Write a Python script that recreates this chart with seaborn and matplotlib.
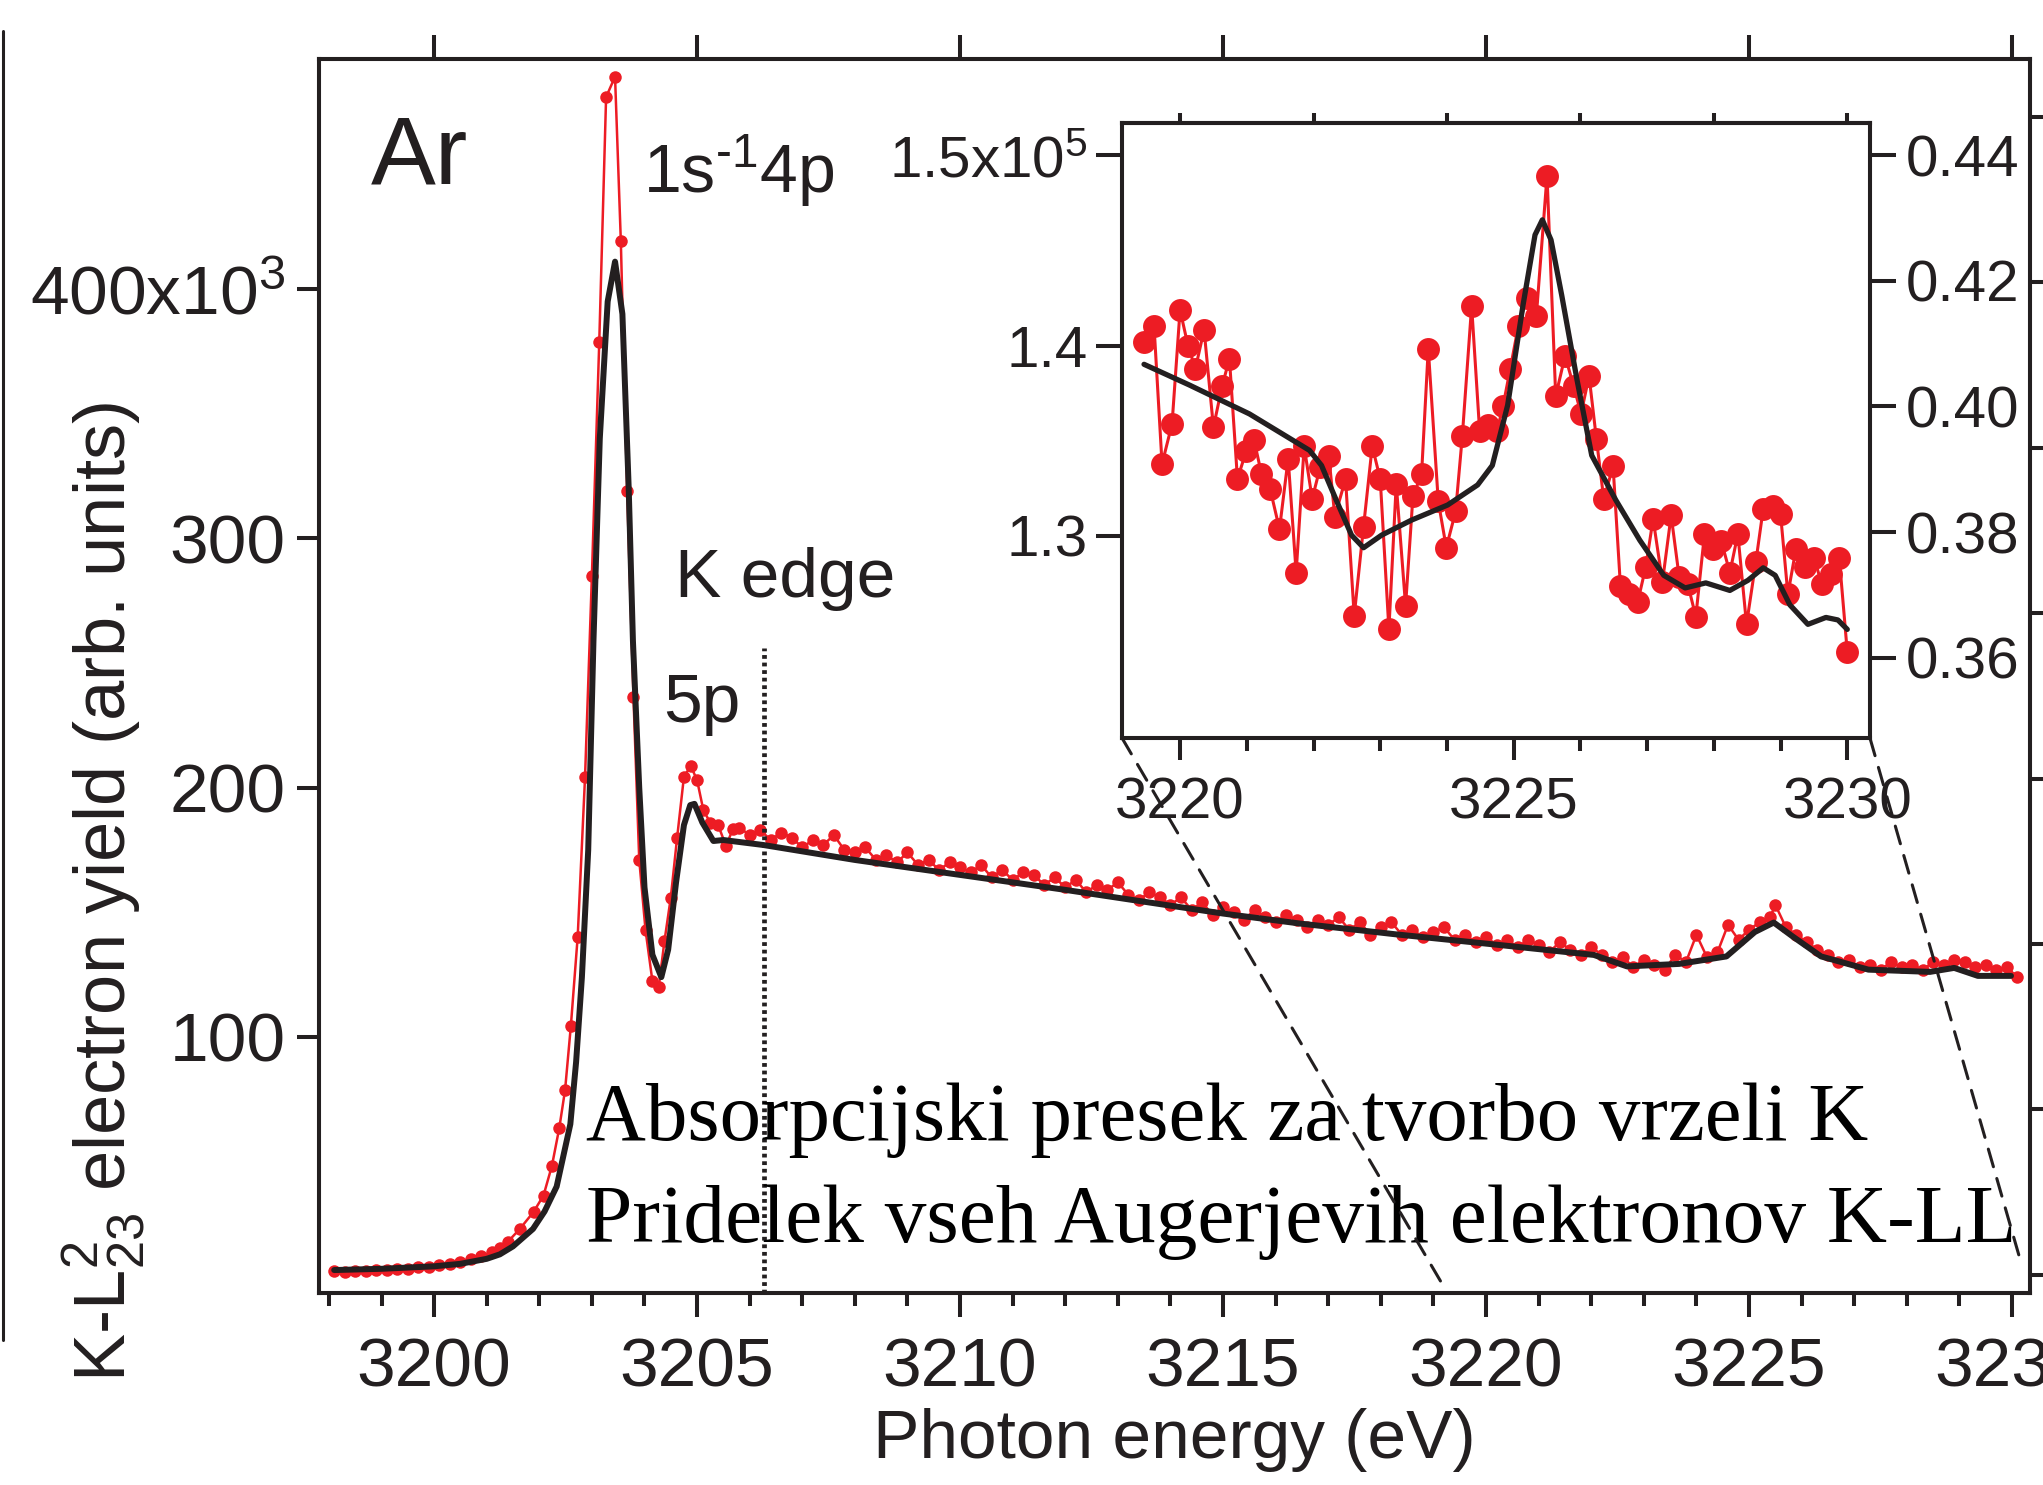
import matplotlib
matplotlib.use("Agg")
import matplotlib.pyplot as plt
import seaborn as sns
from matplotlib.patches import ConnectionPatch
from matplotlib.lines import Line2D
from matplotlib.ticker import MultipleLocator, FixedLocator, FixedFormatter

# glavni graf: izkoristek K-L23^2 (rdece tocke) in absorpcijski presek (crna crta), v 10^3
main_e = [3198.1, 3198.3, 3198.5, 3198.7, 3198.9, 3199.1, 3199.3, 3199.5, 3199.7, 3199.9,
          3200.1, 3200.3, 3200.5, 3200.7, 3200.9, 3201.1, 3201.25, 3201.4, 3201.63, 3201.89,
          3202.08, 3202.24, 3202.38, 3202.49, 3202.6, 3202.73, 3202.87, 3203.0, 3203.14, 3203.27,
          3203.44, 3203.55, 3203.67, 3203.79, 3203.9, 3204.02, 3204.15, 3204.27, 3204.38, 3204.5,
          3204.62, 3204.75, 3204.88, 3205.0, 3205.12, 3205.25, 3205.4, 3205.55, 3205.68,
          3205.8, 3206.0, 3206.2, 3206.4, 3206.6, 3206.8, 3207.0, 3207.2, 3207.4, 3207.6, 3207.8,
          3208.0, 3208.2, 3208.4, 3208.6, 3208.8, 3209.0, 3209.2, 3209.4, 3209.6, 3209.8,
          3210.0, 3210.2, 3210.4, 3210.6, 3210.8, 3211.0, 3211.2, 3211.4, 3211.6, 3211.8,
          3212.0, 3212.2, 3212.4, 3212.6, 3212.8, 3213.0, 3213.2, 3213.4, 3213.6, 3213.8,
          3214.0, 3214.2, 3214.4, 3214.6, 3214.8, 3215.0, 3215.2, 3215.4, 3215.6, 3215.8,
          3216.0, 3216.2, 3216.4, 3216.6, 3216.8, 3217.0, 3217.2, 3217.4, 3217.6, 3217.8,
          3218.0, 3218.2, 3218.4, 3218.6, 3218.8, 3219.0, 3219.2, 3219.4, 3219.6, 3219.8,
          3220.0, 3220.2, 3220.4, 3220.6, 3220.8, 3221.0, 3221.2, 3221.4, 3221.6, 3221.8,
          3222.0, 3222.2, 3222.4, 3222.6, 3222.8, 3223.0, 3223.2, 3223.4, 3223.6, 3223.8,
          3224.0, 3224.2, 3224.4, 3224.6, 3224.8, 3225.0, 3225.2, 3225.4, 3225.5, 3225.7,
          3225.9, 3226.1, 3226.3, 3226.5, 3226.7, 3226.9, 3227.1, 3227.3, 3227.5, 3227.7,
          3227.9, 3228.1, 3228.3, 3228.5, 3228.7, 3228.9, 3229.1, 3229.3, 3229.5, 3229.7,
          3229.9, 3230.1]
main_y = [6.0, 5.6, 6.2, 6.0, 6.6, 6.4, 7.1, 6.9, 7.6, 7.8,
          8.6, 9.0, 9.8, 10.8, 12.0, 13.6, 15.5, 17.8, 23.0, 29.8,
          36.4, 48.3, 63.5, 78.7, 104.4, 140.2, 204.4, 285.0, 378.8, 477.0,
          485.2, 419.3, 319.0, 236.5, 171.1, 142.8, 122.5, 120.0, 138.5, 155.9,
          179.9, 204.4, 208.7, 203.0, 190.9, 186.0, 185.0, 176.6, 183.4,
          184, 181, 183, 179, 182, 180, 176, 179, 177, 181, 175,
          174, 176, 171, 173, 170, 174, 169, 171, 167, 170,
          168, 166, 169, 164, 167, 163, 166, 165, 161, 164,
          160, 163, 158, 161, 159, 162, 157, 155, 158, 156,
          153, 156, 151, 154, 149, 152, 150, 147, 151, 148,
          146, 149, 147, 144, 147, 145, 148, 143, 146, 141,
          144, 146, 141, 143, 140, 142, 144, 139, 141, 138,
          140, 137, 139, 136, 139, 137, 134, 138, 135, 133,
          136, 133, 130, 132, 128, 131, 129, 127, 133, 130,
          141, 132, 134, 145, 139, 143, 146, 148, 153, 144,
          141, 138, 135, 133, 130, 131, 128, 129, 127, 130,
          128, 129, 127, 130, 129, 131, 130, 128, 129, 127,
          128, 124]

fit_e = [3198.1, 3199.0, 3200.0, 3200.5, 3201.0, 3201.25, 3201.5, 3201.88, 3202.1, 3202.33,
         3202.59, 3202.7, 3202.81, 3202.93, 3203.03, 3203.15, 3203.3, 3203.44, 3203.58, 3203.7,
         3203.78, 3203.9, 3204.0, 3204.15, 3204.32, 3204.45, 3204.6, 3204.75, 3204.87, 3204.95,
         3205.1, 3205.31, 3205.5, 3206.26, 3208.0, 3210.0, 3212.0, 3215.0, 3216.46, 3218.27,
         3220.25, 3222.05, 3222.68, 3223.67, 3224.57, 3225.11, 3225.47, 3225.83, 3226.37, 3227.27,
         3228.44, 3228.9, 3229.35, 3229.98]
fit_y = [6.5, 7.0, 8.0, 9.0, 11.0, 12.8, 16.0, 23.0, 30.0, 40.0,
         65.0, 90.0, 124.0, 175.0, 259.0, 340.0, 395.0, 411.0, 390.0, 320.0,
         259.0, 200.0, 160.0, 133.0, 124.0, 135.0, 162.0, 185.0, 193.0, 193.5,
         186.0, 178.6, 179.0, 177.0, 171.0, 165.0, 159.0, 149.5, 145.5, 141.2,
         136.9, 132.9, 128.3, 129.3, 132.3, 142.1, 145.9, 140.3, 132.3, 127.0,
         126.1, 127.7, 124.5, 124.5]

# vlozek 3219-3230 eV: izkoristek (x10^5, leva os) in presek (desna os)
ins_e = [3219.46, 3219.61, 3219.73, 3219.88, 3220.0, 3220.12, 3220.23, 3220.36, 3220.5, 3220.63,
         3220.74, 3220.86, 3220.99, 3221.11, 3221.22, 3221.35, 3221.49, 3221.62, 3221.74, 3221.86,
         3221.98, 3222.1, 3222.23, 3222.32, 3222.48, 3222.61, 3222.75, 3222.88, 3223.0, 3223.13,
         3223.24, 3223.38, 3223.49, 3223.62, 3223.72, 3223.87, 3223.99, 3224.13, 3224.23, 3224.37,
         3224.49, 3224.62, 3224.75, 3224.84, 3224.95, 3225.07, 3225.2, 3225.34, 3225.5, 3225.63,
         3225.77, 3225.9, 3226.01, 3226.13, 3226.24, 3226.35, 3226.49, 3226.6, 3226.73, 3226.86,
         3226.98, 3227.09, 3227.23, 3227.36, 3227.48, 3227.61, 3227.73, 3227.86, 3227.99, 3228.11,
         3228.24, 3228.36, 3228.49, 3228.63, 3228.74, 3228.89, 3229.0, 3229.11, 3229.23, 3229.37,
         3229.5, 3229.62, 3229.75, 3229.88, 3230.0]
ins_y = [1.4018, 1.4103, 1.3377, 1.3588, 1.4187, 1.3997, 1.3879, 1.4082, 1.357, 1.3786,
         1.3931, 1.3298, 1.3443, 1.3501, 1.3325, 1.3245, 1.3034, 1.3404, 1.2805, 1.347,
         1.3193, 1.336, 1.3417, 1.31, 1.3298, 1.2578, 1.3047, 1.347, 1.3298, 1.2507,
         1.3272, 1.2631, 1.3206, 1.3325, 1.3984, 1.318, 1.2937, 1.3127, 1.3522, 1.4208,
         1.3549, 1.358, 1.3549, 1.3681, 1.3879, 1.4103, 1.4248, 1.4156, 1.4894, 1.3734,
         1.3945, 1.3786, 1.3641, 1.3839, 1.3509, 1.3193, 1.3364, 1.2736, 1.2691, 1.2652,
         1.2836, 1.3087, 1.2757, 1.3106, 1.2784, 1.2744, 1.2573, 1.3008, 1.2929, 1.2974,
         1.2805, 1.3008, 1.2533, 1.2863, 1.314, 1.3158, 1.3113, 1.2691, 1.2929, 1.2836,
         1.2884, 1.2744, 1.2797, 1.2884, 1.2388]
ins_fit_e = [3219.46, 3220.14, 3221.04, 3221.94, 3222.12, 3222.34, 3222.57, 3222.75, 3223.02, 3223.47,
             3224.01, 3224.46, 3224.68, 3224.91, 3225.14, 3225.32, 3225.43, 3225.56, 3225.72, 3225.95,
             3226.17, 3226.53, 3226.89, 3227.25, 3227.57, 3227.88, 3228.24, 3228.51, 3228.74, 3228.92,
             3229.14, 3229.41, 3229.68, 3229.86, 3230.0]
ins_fit_y = [0.4067, 0.4034, 0.3988, 0.3930, 0.3906, 0.3851, 0.3795, 0.3775, 0.3795, 0.3819,
             0.3843, 0.3875, 0.3906, 0.4002, 0.4161, 0.4273, 0.4297, 0.4265, 0.4177, 0.4042,
             0.3922, 0.3851, 0.3787, 0.3731, 0.3711, 0.3719, 0.3707, 0.3723, 0.3743, 0.3731,
             0.3684, 0.3653, 0.3664, 0.3660, 0.3645]

y_ticks = [100, 200, 300, 400]
y_labels = ["100", "200", "300", r"400x10$^3$"]
ins_left_ticks = [1.3, 1.4, 1.5]
ins_left_labels = ["1.3", "1.4", r"1.5x10$^5$"]
ins_right_ticks = [0.36, 0.38, 0.40, 0.42, 0.44]
ins_right_labels = ["0.36", "0.38", "0.40", "0.42", "0.44"]
right_ticks = [0.0, 0.2, 0.4, 0.6, 0.8, 1.0, 1.2, 1.4]
ins_top_ticks = [3220, 3222, 3224, 3226, 3228, 3230]
k_edge = 3206.27

red = "#ED1C24"
dark = "#231F20"

sns.set_theme(style="ticks")
plt.rcParams["font.family"] = ["Liberation Sans", "DejaVu Sans"]
plt.rcParams["mathtext.fontset"] = "custom"
plt.rcParams["mathtext.rm"] = "Liberation Sans"
plt.rcParams["mathtext.it"] = "Liberation Sans:italic"
plt.rcParams["mathtext.bf"] = "Liberation Sans:bold"
plt.rcParams["mathtext.default"] = "regular"
plt.rcParams["axes.linewidth"] = 2.9
plt.rcParams["axes.edgecolor"] = dark

fig = plt.figure(figsize=(20.43, 14.85), dpi=100)
ax = fig.add_axes([0.1561, 0.1293, 0.8375, 0.831])

sns.lineplot(x=main_e, y=main_y, ax=ax, color=red, lw=1.8, marker="o", markersize=9,
             mew=0, mec=red, zorder=2)
sns.lineplot(x=fit_e, y=fit_y, ax=ax, color=dark, lw=4.3, zorder=3)

ax.set_xlim(3197.81, 3230.34)
ax.set_ylim(-2.7, 492.3)
ax.xaxis.set_major_locator(MultipleLocator(5))
ax.xaxis.set_minor_locator(MultipleLocator(1))
ax.yaxis.set_major_locator(FixedLocator(y_ticks))
ax.yaxis.set_major_formatter(FixedFormatter(y_labels))
ax.tick_params(axis="x", which="major", direction="out", length=17, width=2.9, top=True,
               colors=dark, labelsize=50, pad=14)
ax.tick_params(axis="x", which="minor", direction="out", length=9, width=2.9, top=False, colors=dark)
ax.tick_params(axis="y", which="major", direction="out", length=16, width=2.9, right=False,
               colors=dark, labelsize=50, pad=8)

ax.set_xlabel("Photon energy (eV)", fontsize=50, color=dark, labelpad=6)
ax.set_ylabel(r"K-L$_{23}^{2}$ electron yield (arb. units)", fontsize=52, color=dark)
ax.yaxis.set_label_coords(-0.1, 0.325)

# desna os preseka (oznake so zunaj slike)
axr = ax.twinx()
axr.set_ylim((-2.7 - 4.65) / 331.7, (492.3 - 4.65) / 331.7)
axr.yaxis.set_major_locator(FixedLocator(right_ticks))
axr.tick_params(axis="y", direction="out", length=17, width=2.9, labelright=False, colors=dark)

ax.vlines(k_edge, ax.get_ylim()[0], 256, colors=dark, linestyles=(0, (0.8, 0.8)), lw=3.4, zorder=4)

ax.text(0.1816, 0.8761, "Ar", transform=fig.transFigure, fontsize=70, color=dark, va="baseline")
ax.text(0.3147, 0.870, r"1s$^{\text{-1}}$4p", transform=fig.transFigure, fontsize=49, color=dark,
        va="baseline")
ax.text(0.3304, 0.598, "K edge", transform=fig.transFigure, fontsize=50, color=dark, va="baseline")
ax.text(0.3245, 0.5138, "5p", transform=fig.transFigure, fontsize=50, color=dark, va="baseline")
ax.text(0.2868, 0.2323, "Absorpcijski presek za tvorbo vrzeli K", transform=fig.transFigure,
        fontsize=59.7, family="Liberation Serif", color="black", va="baseline", zorder=6)
ax.text(0.2868, 0.1636, "Pridelek vseh Augerjevih elektronov K-LL", transform=fig.transFigure,
        fontsize=60, family="Liberation Serif", color="black", va="baseline", zorder=6)

# vlozek
axi = fig.add_axes([0.5492, 0.503, 0.3661, 0.4141])
axi.set_facecolor("white")
sns.lineplot(x=ins_e, y=ins_y, ax=axi, color=red, lw=2.2, marker="o", markersize=16.5,
             mew=0, mec=red, zorder=2)
axi2 = axi.twinx()
sns.lineplot(x=ins_fit_e, y=ins_fit_y, ax=axi2, color=dark, lw=3.8, zorder=3)

axi.set_xlim(3219.13, 3230.34)
axi.set_ylim(1.1935, 1.517)
axi2.set_ylim(0.3472, 0.4451)
axi.xaxis.set_major_locator(MultipleLocator(5))
axi.xaxis.set_minor_locator(MultipleLocator(1))
axi.yaxis.set_major_locator(FixedLocator(ins_left_ticks))
axi.yaxis.set_major_formatter(FixedFormatter(ins_left_labels))
axi2.yaxis.set_major_locator(FixedLocator(ins_right_ticks))
axi2.yaxis.set_major_formatter(FixedFormatter(ins_right_labels))
axi.tick_params(axis="x", which="major", direction="out", length=16, width=2.9, colors=dark,
                labelsize=42, pad=12)
axi.tick_params(axis="x", which="minor", direction="out", length=9, width=2.9, colors=dark)
axi.tick_params(axis="y", direction="out", length=19, width=2.9, colors=dark, labelsize=42, pad=6)
axi2.tick_params(axis="y", direction="out", length=19, width=2.9, colors=dark, labelsize=42, pad=7)
for a in (axi, axi2):
    a.set_xlabel("")
    a.set_ylabel("")

sec = axi.secondary_xaxis("top")
sec.xaxis.set_major_locator(FixedLocator(ins_top_ticks))
sec.tick_params(axis="x", direction="out", length=7, width=2.9, labeltop=False, colors=dark)
sec.xaxis.set_ticklabels([])

for xa, xb in [((0, 0), (3219.15, 1.5)), ((1, 0), (3230.15, 11.0))]:
    con = ConnectionPatch(xyA=xa, coordsA=axi.transAxes, xyB=xb, coordsB=ax.transData,
                          color=dark, lw=2.2, linestyle=(0, (6, 4)), zorder=5)
    fig.add_artist(con)

# rob sosednje plosce na levi
fig.add_artist(Line2D([0.0015, 0.0015], [1 - 31 / 1485, 1 - 1340 / 1485],
                      transform=fig.transFigure, color=dark, lw=2.2))

fig.savefig("out.png", dpi=100)
